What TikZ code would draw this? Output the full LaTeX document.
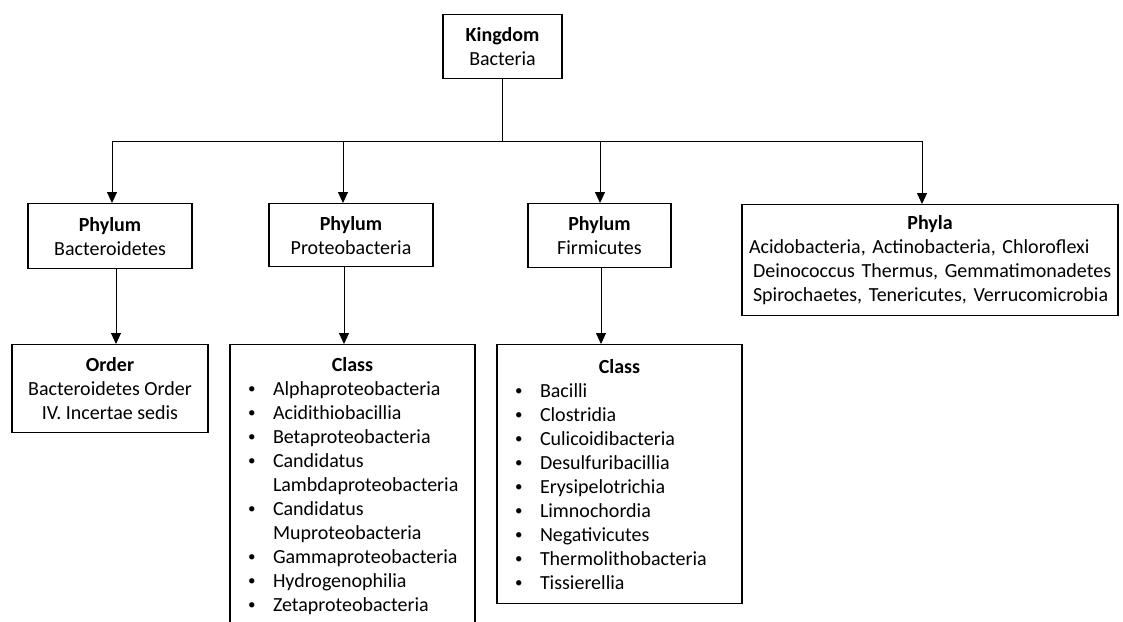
\documentclass[tikz,border=0pt]{standalone}
\usepackage{fontspec}
\setmainfont{Carlito}
\usetikzlibrary{arrows.meta}
\tikzset{
kbox/.style={draw,line width=1.3pt,font=\fontsize{20}{24}\selectfont,inner sep=0pt,anchor=north},
karr/.style={line width=0.9pt,-{Triangle[width=10pt,length=11pt]}},
}
\newcommand{\kbul}{\hspace*{18pt}\makebox[25pt][l]{\raisebox{1.8pt}{\fontsize{15}{15}\selectfont\textbullet}}}
\newcommand{\kcont}{\hspace*{43pt}}
\newcommand{\kln}[2]{\hspace*{#1}\mbox{#2}}
\begin{document}
\begin{tikzpicture}[x=1pt,y=-1pt]
\useasboundingbox(0,0)rectangle(1123,621);
\clip(0,0)rectangle(1123,621);
\pgfmathsetmacro{\kbus}{141}
% top
\node[kbox,minimum width=119,minimum height=64,align=center](kingdom)at(502.5,14){\textbf{Kingdom}\\Bacteria};
% phyla row
\node[kbox,minimum width=164,minimum height=65,align=center](bact)at(110,203){\textbf{Phylum}\\Bacteroidetes};
\node[kbox,minimum width=164,minimum height=63,align=center](prot)at(351,203){\textbf{Phylum}\\Proteobacteria};
\node[kbox,minimum width=143,minimum height=64,align=center](firm)at(599.5,203){\textbf{Phylum}\\Firmicutes};
\node[kbox,text width=376,minimum height=111,align=left](phyla)at(930,204){\makebox[\linewidth]{\textbf{Phyla}}\\
\kln{7pt}{Acidobacteria, Actinobacteria, Chloroflexi}\\
\kln{11pt}{Deinococcus Thermus, Gemmatimonadetes}\\
\kln{11pt}{Spirochaetes, Tenericutes, Verrucomicrobia}};
% lower row
\node[kbox,minimum width=196,minimum height=88,align=center](order)at(110,344){\textbf{Order}\\Bacteroidetes Order\\IV. Incertae sedis};
\node[kbox,text width=245,minimum height=282,align=left](pcls)at(352.5,344){\makebox[\linewidth]{\textbf{Class}}\\
\kbul Alphaproteobacteria\\\kbul Acidithiobacillia\\\kbul Betaproteobacteria\\
\kbul Candidatus\\\kcont Lambdaproteobacteria\\\kbul Candidatus\\\kcont Muproteobacteria\\
\kbul Gammaproteobacteria\\\kbul Hydrogenophilia\\\kbul Zetaproteobacteria};
\node[kbox,text width=245,minimum height=259,align=left](fcls)at(619.5,344){\makebox[\linewidth]{\textbf{Class}}\\
\kbul Bacilli\\\kbul Clostridia\\\kbul Culicoidibacteria\\\kbul Desulfuribacillia\\\kbul Erysipelotrichia\\
\kbul Limnochordia\\\kbul Negativicutes\\\kbul Thermolithobacteria\\\kbul Tissierellia};
% connectors
\coordinate(busL)at(112,\kbus);
\coordinate(busR)at(922,\kbus);
\draw[line width=0.9pt](busL)--(busR);
\draw[line width=0.9pt](kingdom.south)--(kingdom.south|-busL);
\foreach \kx/\kn in {112/bact,343/prot,600/firm,922/phyla}{\coordinate(t\kn)at(\kx,\kbus);\draw[karr](t\kn)--(t\kn|-\kn.north);}
\foreach \kdx/\ka/\kb in {6/bact/order,-7/prot/pcls,1.5/firm/fcls}{\draw[karr]([xshift=\kdx]\ka.south)--([xshift=\kdx]\ka.south|-\kb.north);}
\end{tikzpicture}
\end{document}
